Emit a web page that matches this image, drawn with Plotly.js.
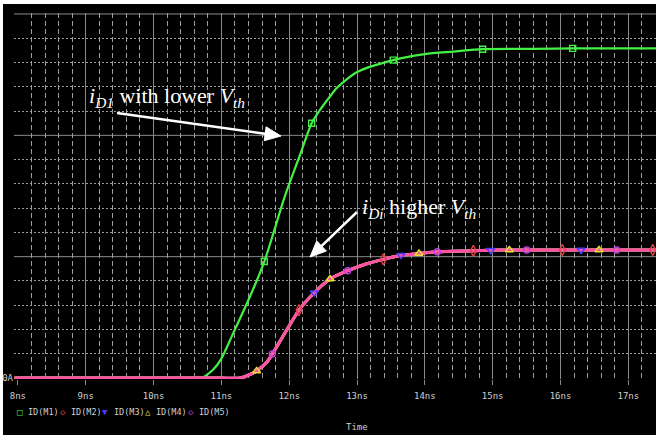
<!DOCTYPE html>
<html><head><meta charset="utf-8">
<script src="https://cdn.plot.ly/plotly-3.0.1.min.js"></script>
<style>html,body{margin:0;padding:0;background:#fff;}#chart{width:656px;height:435px;}</style>
</head><body><div id="chart"></div>
<script>
// ---------------- data ----------------
const timeTicks = [8, 9, 10, 11, 12, 13, 14, 15, 16, 17];
const timeTickLabels = ['8ns', '9ns', '10ns', '11ns', '12ns', '13ns', '14ns', '15ns', '16ns', '17ns'];
const currentTicks = [0];
const currentTickLabels = ['0A'];
const currentGridLevels = [1, 2, 3];
const seriesNames = ['ID(M1)', 'ID(M2)', 'ID(M3)', 'ID(M4)', 'ID(M5)'];

// ID(M1) : device with lower Vth  (time in ns, current in grid units)
const m1Time    = [7.95, 10.50, 10.70, 10.88, 11.00, 11.175, 11.42, 11.633, 11.765, 11.913, 12.00, 12.16, 12.331, 12.454, 12.601, 12.70, 12.995, 13.534, 14.00, 14.42, 14.852, 15.60, 16.179, 17.41];
const m1Current = [0,    0,     0,     0.07,  0.16,  0.37,   0.67,  0.96,   1.19,   1.46,   1.60,  1.84,  2.10,   2.21,   2.32,   2.39,  2.52,   2.62,   2.67,  2.69,  2.71,   2.712, 2.717,  2.717];
const m1MarkerIdx = [7, 12, 17, 20, 22];

// ID(M2)..ID(M5) : devices with higher Vth (their curves coincide)
const hiTime    = [7.95, 11.00, 11.274, 11.466, 11.52, 11.672, 11.751, 11.963, 12.144, 12.37, 12.601, 12.862, 13.142, 13.387, 13.648, 13.913, 14.183, 14.714, 14.97, 15.245, 15.501, 16.026, 16.302, 16.567, 16.828, 17.359, 17.41];
const hiCurrent = [0,    0,     0,      0.041,  0.058, 0.132,  0.198,  0.396,  0.56,   0.703, 0.816,  0.884,  0.942,  0.978,  1.012,  1.026,  1.04,   1.048,  1.053, 1.055,  1.055,  1.055,  1.055,  1.055,  1.055,  1.055,  1.055];
const m2MarkerIdx = [8, 13, 17, 21, 25];
const m3MarkerIdx = [9, 14, 18, 22];
const m4MarkerIdx = [4, 10, 15, 19, 23];
const m5MarkerIdx = [6, 11, 16, 20, 24];

// ---------------- styling / geometry ----------------
const L = 14, T = 13, W = 642, H = 366, FULLW = 656, FULLH = 435;
const xRange = [7.9425, 17.4073];
const yRange = [-0.0082, 3.0082];
const px2x = px => (px - L) / W;
const py2y = py => (T + H - py) / H;

const seriesColors = ['#44f044', '#e04040', '#4a3cff', '#e8e030', '#c040e0'];
const lineColors   = ['#44f044', '#e04040', '#4a3cff', '#e8e030', '#ff50a8'];
const seriesSymbols = ['square-open', 'diamond-tall-open', 'triangle-down-open', 'triangle-up-open', 'circle-open'];
const markerSizes = [6, 8, 7, 7, 6];
const legendGlyphs = ['\u25A1', '\u25C7', '\u25BC', '\u25B3', '\u25C7'];
const monoFont = 'DejaVu Sans Mono';
const labelGray = '#cfcfcf';
const gridMajor = '#8a8a8a';
const gridMinor = '#9c9c9c';

function pick(arr, idx) { return idx.map(i => arr[i]); }

const traces = [];
// lines (drawn first)
traces.push({x: m1Time, y: m1Current, mode: 'lines', xaxis: 'x', yaxis: 'y', hoverinfo: 'skip',
  line: {color: lineColors[0], width: 2.2, shape: 'spline', smoothing: 0.7}});
for (let k = 1; k <= 4; k++) {
  traces.push({x: hiTime, y: hiCurrent, mode: 'lines', xaxis: 'x', yaxis: 'y', hoverinfo: 'skip',
    line: {color: lineColors[k], width: 3, shape: 'spline', smoothing: 0.6}});
}
// markers (overlay axis so they sit on top of all lines)
const markerSets = [
  [m1Time, m1Current, m1MarkerIdx],
  [hiTime, hiCurrent, m2MarkerIdx],
  [hiTime, hiCurrent, m3MarkerIdx],
  [hiTime, hiCurrent, m4MarkerIdx],
  [hiTime, hiCurrent, m5MarkerIdx]
];
markerSets.forEach((s, k) => {
  traces.push({x: pick(s[0], s[2]), y: pick(s[1], s[2]), mode: 'markers', xaxis: 'x2', yaxis: 'y',
    name: seriesNames[k], hoverinfo: 'skip', cliponaxis: false,
    marker: {symbol: seriesSymbols[k], size: markerSizes[k], color: seriesColors[k], line: {color: seriesColors[k], width: 1.4}}});
});

// minor grid positions
const xMinor = [];
for (let i = 41; i <= 87; i++) { if (i % 5 !== 0) xMinor.push(i / 5); }
const yMinor = [];
for (let i = 1; i < 15; i++) { if (i % 5 !== 0) yMinor.push(i / 5); }

const annotations = [];
// legend built from series names
seriesNames.forEach((n, k) => {
  const x0 = 17 + 42.75 * k;
  annotations.push({xref: 'paper', yref: 'paper', x: px2x(x0 + 3), y: py2y(412),
    xanchor: 'center', yanchor: 'middle', showarrow: false, text: legendGlyphs[k],
    font: {family: monoFont, size: 9, color: seriesColors[k]}});
  annotations.push({xref: 'paper', yref: 'paper', x: px2x(x0 + 9), y: py2y(412),
    xanchor: 'left', yanchor: 'middle', showarrow: false, text: n,
    font: {family: monoFont, size: 8.5, color: labelGray}});
});
annotations.push({xref: 'paper', yref: 'paper', x: px2x(357), y: py2y(427), xanchor: 'center', yanchor: 'middle',
  showarrow: false, text: 'Time', font: {family: monoFont, size: 9, color: labelGray}});
// call-out texts
annotations.push({xref: 'paper', yref: 'paper', x: px2x(87), y: py2y(97), xanchor: 'left', yanchor: 'middle', showarrow: false,
  text: '<i>i</i><sub style="font-style:italic">D1</sub> with lower <i>V</i><sub style="font-style:italic">th</sub>',
  font: {family: 'Liberation Serif', size: 22, color: '#ffffff'}});
annotations.push({xref: 'paper', yref: 'paper', x: px2x(360), y: py2y(208), xanchor: 'left', yanchor: 'middle', showarrow: false,
  text: '<i>i</i><sub style="font-style:italic">Di</sub> higher <i>V</i><sub style="font-style:italic">th</sub>',
  font: {family: 'Liberation Serif', size: 22, color: '#ffffff'}});

// arrows as shapes (pixel positions of tail and tip)
function arrowShapes(tail, tip) {
  const dx = tip[0] - tail[0], dy = tip[1] - tail[1];
  const len = Math.hypot(dx, dy), ux = dx / len, uy = dy / len;
  const headLen = 16, headHalf = 7;
  const bx = tip[0] - ux * headLen, by = tip[1] - uy * headLen;
  const lx = tip[0] - ux * (headLen - 2), ly = tip[1] - uy * (headLen - 2);
  const p1 = [bx - uy * headHalf, by + ux * headHalf], p2 = [bx + uy * headHalf, by - ux * headHalf];
  const P = p => px2x(p[0]) + ',' + py2y(p[1]);
  return [
    {type: 'line', xref: 'paper', yref: 'paper', x0: px2x(tail[0]), y0: py2y(tail[1]), x1: px2x(lx), y1: py2y(ly),
      line: {color: '#ffffff', width: 2.5}, layer: 'above'},
    {type: 'path', xref: 'paper', yref: 'paper', path: 'M' + P(tip) + 'L' + P(p1) + 'L' + P(p2) + 'Z',
      fillcolor: '#ffffff', line: {color: '#ffffff', width: 1}, layer: 'above'}
  ];
}

const shapes = [{type: 'rect', xref: 'paper', yref: 'paper', x0: px2x(3), x1: px2x(700), y0: py2y(480), y1: py2y(4),
  fillcolor: '#000000', line: {width: 0}, layer: 'below'}];
currentGridLevels.forEach(v => shapes.push({type: 'line', xref: 'paper', yref: 'y', x0: 0, x1: 1, y0: v, y1: v,
  line: {color: gridMajor, width: 1}, layer: 'below'}));
shapes.push(...arrowShapes([117, 113], [281, 136]));
shapes.push(...arrowShapes([357, 212], [310, 257]));

const layout = {
  width: FULLW, height: FULLH,
  margin: {l: L, r: FULLW - L - W, t: T, b: FULLH - T - H, pad: 0},
  paper_bgcolor: '#ffffff', plot_bgcolor: '#000000',
  showlegend: false,
  xaxis: {range: xRange, tickmode: 'array', tickvals: timeTicks.slice(1), showticklabels: false, ticks: '',
    showgrid: true, gridcolor: gridMajor, gridwidth: 1, zeroline: false, showline: false, fixedrange: true,
    minor: {tickmode: 'array', tickvals: xMinor, showgrid: true, gridcolor: gridMinor, gridwidth: 1, griddash: '5px,3px', ticks: ''}},
  xaxis2: {range: xRange, overlaying: 'x', anchor: 'y', side: 'bottom', tickmode: 'array', tickvals: timeTicks, ticktext: timeTickLabels,
    ticks: 'outside', ticklen: 5, tickwidth: 1, tickcolor: gridMajor, showgrid: false, zeroline: false, showline: false, fixedrange: true,
    ticklabelstandoff: 3, tickfont: {family: monoFont, size: 9, color: labelGray}},
  yaxis: {range: yRange, tickmode: 'array', tickvals: currentTicks, ticktext: currentTickLabels, ticks: '',
    showgrid: true, gridcolor: gridMajor, gridwidth: 1, zeroline: false, showline: false, fixedrange: true,
    tickfont: {family: monoFont, size: 9, color: labelGray},
    minor: {tickmode: 'array', tickvals: yMinor, showgrid: true, gridcolor: gridMinor, gridwidth: 1, griddash: '2px,2px', ticks: ''}},
  shapes: shapes,
  annotations: annotations
};

Plotly.newPlot('chart', traces, layout, {staticPlot: true, displayModeBar: false});
</script></body></html>
